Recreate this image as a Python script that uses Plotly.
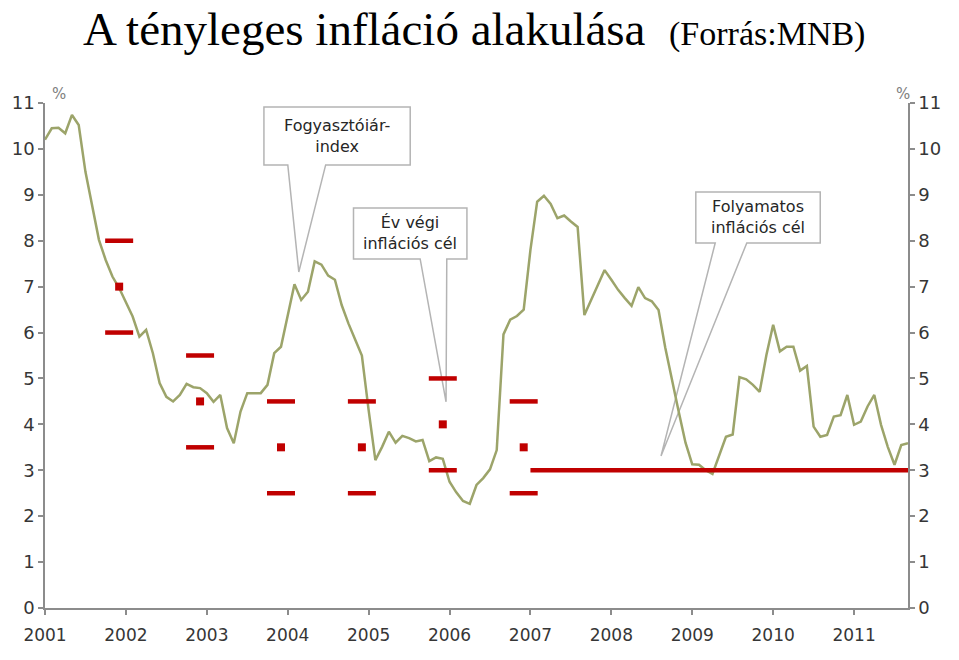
import plotly.graph_objects as go

# ---------------- data ----------------
start_year = 2001
cpi = [
    # 2001
    10.2, 10.45, 10.46, 10.34, 10.74, 10.52, 9.5, 8.74, 8.02, 7.58, 7.22, 6.97,
    # 2002
    6.64, 6.35, 5.91, 6.06, 5.55, 4.9, 4.6, 4.5, 4.64, 4.88, 4.81, 4.79,
    # 2003
    4.68, 4.49, 4.64, 3.92, 3.59, 4.28, 4.68, 4.68, 4.68, 4.86, 5.55, 5.69,
    # 2004
    6.35, 7.05, 6.71, 6.89, 7.55, 7.48, 7.24, 7.15, 6.6, 6.2, 5.85, 5.5,
    # 2005
    4.31, 3.22, 3.51, 3.84, 3.6, 3.75, 3.7, 3.63, 3.66, 3.2, 3.28, 3.25,
    # 2006
    2.75, 2.52, 2.33, 2.27, 2.68, 2.83, 3.02, 3.44, 5.96, 6.28, 6.36, 6.5,
    # 2007
    7.8, 8.85, 8.98, 8.8, 8.49, 8.55, 8.42, 8.3, 6.38, 6.72, 7.05, 7.36,
    # 2008
    7.15, 6.93, 6.75, 6.58, 6.99, 6.75, 6.68, 6.49, 5.67, 4.95, 4.27, 3.6,
    # 2009
    3.13, 3.12, 3.0, 2.92, 3.35, 3.73, 3.78, 5.03, 4.98, 4.86, 4.71, 5.51,
    # 2010
    6.17, 5.59, 5.69, 5.69, 5.17, 5.27, 3.95, 3.73, 3.77, 4.17, 4.2, 4.64,
    # 2011
    3.99, 4.06, 4.39, 4.64, 3.99, 3.51, 3.12, 3.55, 3.59,
]

target_years = [2001, 2002, 2003, 2004, 2005, 2006]   # year-end targets (December)
target_mid = [7, 4.5, 3.5, 3.5, 4, 3.5]
target_low = [6, 3.5, 2.5, 2.5, 3, 2.5]
target_high = [8, 5.5, 4.5, 4.5, 5, 4.5]

cont_target_start = 2007
cont_target_value = 3

year_ticks = list(range(2001, 2012))
year_labels = [str(y) for y in year_ticks]
y_ticks = list(range(0, 12))

# ---------------- derived positions ----------------
x_month = [start_year + i / 12 for i in range(len(cpi))]
x_end = x_month[-1]
x_target = [y + 11 / 12 for y in target_years]

RED = "#c00000"
OLIVE = "#9ca46a"
AXIS = "#8c8c8c"
TXT = "#262626"

fig = go.Figure()

fig.add_trace(go.Scatter(
    x=x_month, y=cpi, mode="lines",
    line=dict(color=OLIVE, width=2.5), showlegend=False, hoverinfo="skip"))

dash_x = x_target + x_target
dash_y = target_low + target_high
fig.add_trace(go.Scatter(
    x=dash_x, y=dash_y, mode="markers",
    marker=dict(symbol="line-ew", size=20, line=dict(color=RED, width=4.5)),
    showlegend=False, hoverinfo="skip"))

fig.add_trace(go.Scatter(
    x=x_target, y=target_mid, mode="markers",
    marker=dict(symbol="square", size=8, color=RED, line=dict(width=0)),
    showlegend=False, hoverinfo="skip"))

fig.add_trace(go.Scatter(
    x=[cont_target_start, x_end], y=[cont_target_value, cont_target_value],
    mode="lines", line=dict(color=RED, width=4.5), yaxis="y2",
    showlegend=False, hoverinfo="skip"))


# ---------------- callout boxes ----------------
def callout(x0, x1, y0, y1, b_left, b_right, ax, ay):
    """box from (x0,y1) top-left to (x1,y0) bottom-right, wedge from bottom edge to apex"""
    return (f"M {x0},{y1} L {x1},{y1} L {x1},{y0} L {b_right},{y0} "
            f"L {ax},{ay} L {b_left},{y0} L {x0},{y0} Z")


callouts = [
    # x0, x1, ybottom, ytop, base_left, base_right, apex_x, apex_y, text
    (2003.706, 2005.514, 9.651, 10.915, 2004.001, 2004.469, 2004.137, 7.32,
     "Fogyasztóiár-<br>index"),
    (2004.813, 2006.215, 7.603, 8.715, 2005.637, 2005.966, 2005.957, 4.49,
     "Év végi<br>inflációs cél"),
    (2009.044, 2010.582, 7.952, 9.063, 2009.284, 2009.674, 2008.614, 3.31,
     "Folyamatos<br>inflációs cél"),
]

shapes = []
annotations = []
for x0, x1, yb, yt, bl, br, axp, ayp, txt in callouts:
    shapes.append(dict(
        type="path", xref="x", yref="y", layer="below",
        path=callout(x0, x1, yb, yt, bl, br, axp, ayp),
        line=dict(color="#b4b4b4", width=1.5), fillcolor="white"))
    annotations.append(dict(
        x=(x0 + x1) / 2, y=(yb + yt) / 2, xref="x", yref="y",
        text=txt, showarrow=False,
        font=dict(family="DejaVu Sans", size=16, color=TXT)))

# title
annotations.append(dict(
    x=0.497, y=1.146, xref="paper", yref="paper", xanchor="center", yanchor="middle",
    text="A tényleges infláció alakulása  <span style='font-size:34px'>(Forrás:MNB)</span>",
    showarrow=False, font=dict(family="Liberation Serif", size=47, color="black")))

# % labels
annotations.append(dict(x=0.006, y=1.04, xref="paper", yref="paper",
                        text="%", showarrow=False,
                        font=dict(family="DejaVu Sans", size=15, color="#808080")))
annotations.append(dict(x=1.0046, y=1.04, xref="paper", yref="paper",
                        text="%", showarrow=False,
                        font=dict(family="DejaVu Sans", size=15, color="#808080")))

axis_font = dict(family="DejaVu Sans", size=17, color="#363636")

fig.update_layout(
    width=959, height=660, autosize=False,
    margin=dict(l=43, r=51, t=103, b=52),
    paper_bgcolor="white", plot_bgcolor="white",
    showlegend=False,
    shapes=shapes, annotations=annotations,
    xaxis=dict(
        range=[start_year, x_end], tickvals=year_ticks, ticktext=year_labels,
        showgrid=False, zeroline=False, showline=True, linecolor=AXIS, linewidth=1.5,
        ticks="outside", ticklen=5, tickcolor=AXIS, tickwidth=1.5,
        tickfont=axis_font, ticklabelstandoff=6),
    yaxis=dict(
        range=[0, 11], tickvals=y_ticks, showgrid=False, zeroline=False,
        showline=True, linecolor=AXIS, linewidth=1.5,
        ticks="outside", ticklen=5, tickcolor=AXIS, tickwidth=1.5,
        tickfont=dict(family="DejaVu Sans", size=18, color="#363636")),
    yaxis2=dict(
        range=[0, 11], tickvals=y_ticks, overlaying="y", side="right", anchor="x",
        showgrid=False, zeroline=False, showline=True, linecolor=AXIS, linewidth=1.5,
        ticks="outside", ticklen=5, tickcolor=AXIS, tickwidth=1.5,
        tickfont=dict(family="DejaVu Sans", size=18, color="#363636")),
)

fig.write_html(
    "out.html",
    config={"displayModeBar": False},
    post_script="document.body.style.margin='0';document.body.style.overflow='hidden';")
